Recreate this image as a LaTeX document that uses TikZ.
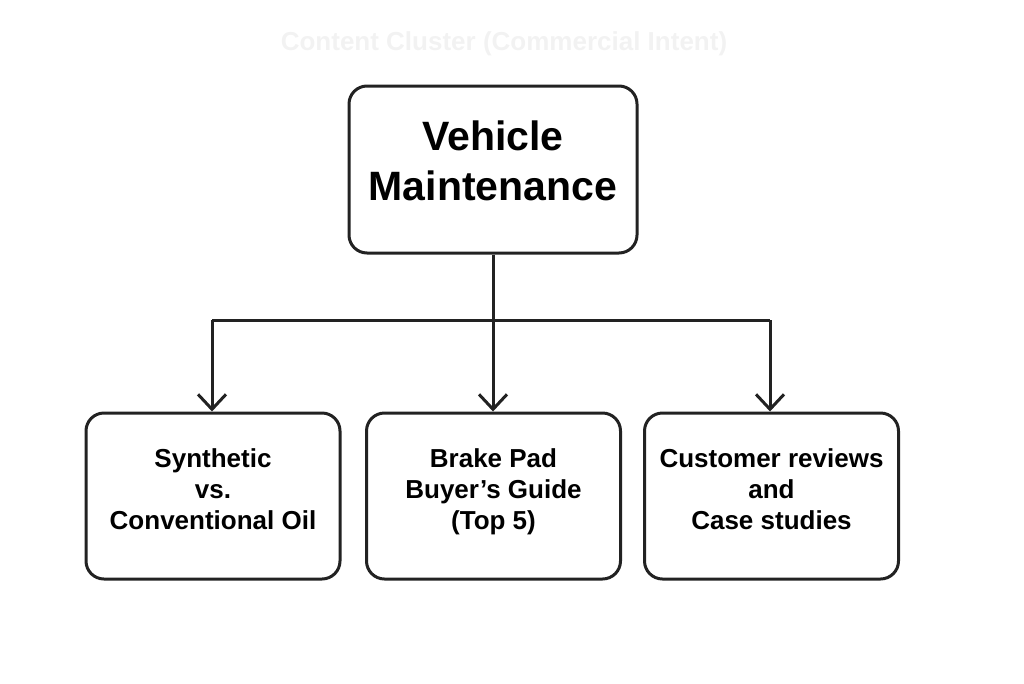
\documentclass[tikz,border=0pt]{standalone}
\usepackage{fontspec}
\setmainfont{Liberation Sans}
\usetikzlibrary{arrows.meta}
\definecolor{ink}{HTML}{222222}
\definecolor{ghost}{HTML}{F2F2F2}
\tikzset{
  box/.style={draw=ink, line width=3pt, rounded corners=18pt, fill=white, align=center, inner sep=0pt},
  topbox/.style={box, minimum width=288pt, minimum height=167pt, font=\bfseries\fontsize{41}{50}\selectfont, text depth=18pt},
  leafbox/.style={box, minimum width=254pt, minimum height=166pt, font=\bfseries\fontsize{26}{31}\selectfont, text depth=13pt},
  conn/.style={draw=ink, line width=3pt},
  arr/.style={conn, -{Straight Barb[length=15pt, width=28pt, line width=3pt]}},
}
\begin{document}
\begin{tikzpicture}[x=1pt, y=-1pt]
  \useasboundingbox (0,0) rectangle (1024,683);
  \node[font=\bfseries\fontsize{26}{30}\selectfont, text=ghost] (title) at (504,44) {Content Cluster (Commercial Intent)};
  \node[topbox] (top) at (493,169.5) {Vehicle\\Maintenance};
  \node[leafbox] (b1) at (213,496) {Synthetic\\vs.\\Conventional Oil};
  \node[leafbox] (b2) at (493.5,496) {Brake Pad\\Buyer’s Guide\\(Top 5)};
  \node[leafbox] (b3) at (771.5,496) {Customer reviews\\and\\Case studies};
  \coordinate (j) at (493,320);
  \coordinate (jl) at (212,320);
  \coordinate (jr) at (770,320);
  \draw[conn] (top.south) -- (j);
  \draw[conn] (jl) -- (jr);
  \draw[arr] (jl) -- (b1.north -| jl);
  \draw[arr] (j) -- (b2.north -| j);
  \draw[arr] (jr) -- (b3.north -| jr);
\end{tikzpicture}
\end{document}
